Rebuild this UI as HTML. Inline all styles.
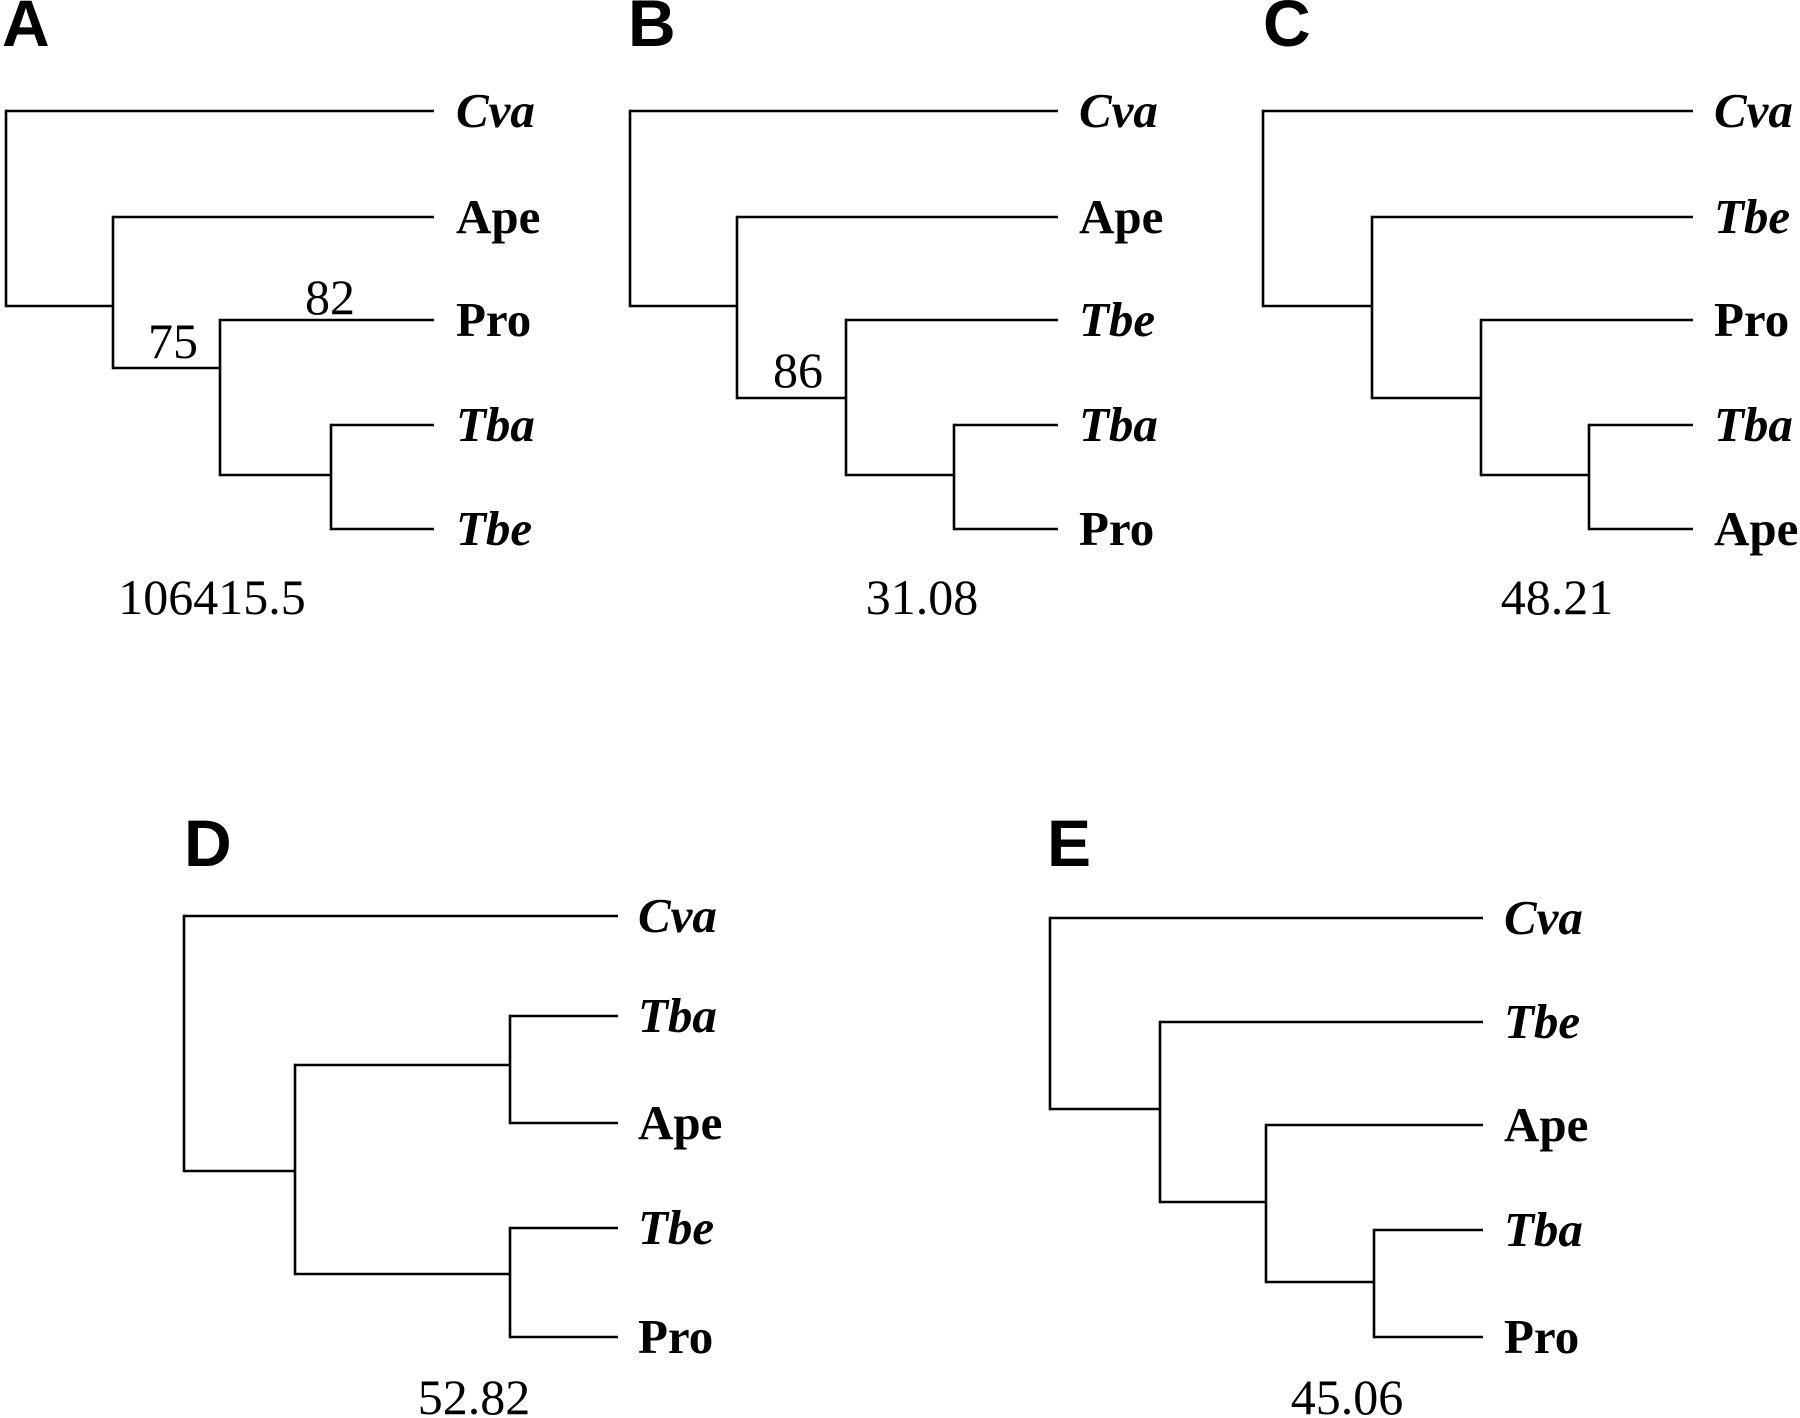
<!DOCTYPE html>
<html><head><meta charset="utf-8"><style>
html,body{margin:0;padding:0;background:#fff;}
svg{display:block;}
.tip{font-family:"Liberation Serif",serif;font-weight:bold;font-size:49px;fill:#000;}
.num{font-family:"Liberation Serif",serif;font-size:50px;fill:#000;}
.pl{font-family:"Liberation Sans",sans-serif;font-weight:bold;font-size:66px;fill:#000;}
</style></head><body>
<svg id="fig" width="1800" height="1418" viewBox="0 0 1800 1418" xmlns="http://www.w3.org/2000/svg"></svg>
<script>
const panelLetters = ["A","B","C","D","E"];
const panelScores = ["106415.5","31.08","48.21","52.82","45.06"];
const tipNamesA = ["Cva","Ape","Pro","Tba","Tbe"];
const tipNamesB = ["Cva","Ape","Tbe","Tba","Pro"];
const tipNamesC = ["Cva","Tbe","Pro","Tba","Ape"];
const tipNamesD = ["Cva","Tba","Ape","Tbe","Pro"];
const tipNamesE = ["Cva","Tbe","Ape","Tba","Pro"];
const italicTaxa = ["Cva","Tba","Tbe"];
const supportA = ["82","75"];
const supportB = ["86"];

const NS="http://www.w3.org/2000/svg";
const svg=document.getElementById('fig');
function mk(tag,attrs,parent){const e=document.createElementNS(NS,tag);for(const k in attrs)e.setAttribute(k,attrs[k]);(parent||svg).appendChild(e);return e;}

const layouts=[
 {letter:[2,46],rows:[111,217,320,425,529],tipX:434,labX:456,score:[212,614],
  tree:[6,306,[0,[113,306,[1,[220,368,[2,[331,475,[3,4]]]]]]]],names:tipNamesA,
  supPos:[[330,314],[173,358]],sup:supportA},
 {letter:[628,46],rows:[111,217,320,425,529],tipX:1058,labX:1079,score:[922,614],
  tree:[630,306,[0,[737,306,[1,[846,398,[2,[954,475,[3,4]]]]]]]],names:tipNamesB,
  supPos:[[798,387]],sup:supportB},
 {letter:[1263,46],rows:[111,217,320,425,529],tipX:1693,labX:1714,score:[1557,614],
  tree:[1263,306,[0,[1372,306,[1,[1481,398,[2,[1589,475,[3,4]]]]]]]],names:tipNamesC,supPos:[],sup:[]},
 {letter:[184,866],rows:[916,1016,1123,1228,1337],tipX:618,labX:638,score:[474,1414],
  tree:[184,1171,[0,[295,1171,[[510,1065,[1,2]],[510,1274,[3,4]]]]]],names:tipNamesD,supPos:[],sup:[]},
 {letter:[1047,866],rows:[918,1022,1125,1230,1337],tipX:1483,labX:1504,score:[1347,1414],
  tree:[1050,1109,[0,[1160,1109,[1,[1266,1202,[2,[1374,1282,[3,4]]]]]]]],names:tipNamesE,supPos:[],sup:[]}
];

layouts.forEach((L,pi)=>{
  const g=mk('g',{});
  
  
  const lt=mk('text',{x:L.letter[0],y:L.letter[1],class:'pl'},g);
  lt.textContent=panelLetters[pi];
  
  
  function draw(node){
    const x=node[0],kids=node[2];
    const ys=kids.map(c=>{
      let cy,cx;
      if(typeof c==='number'){cy=L.rows[c];cx=L.tipX;}
      else{cy=c[1];cx=c[0];draw(c);}
      const h=mk('line',{x1:x,y1:cy,x2:cx,y2:cy,stroke:'#000','stroke-width':2.6},g);
      
      
      return cy;
    });
    const v=mk('line',{x1:x,y1:Math.min(...ys)-1.3,x2:x,y2:Math.max(...ys)+1.3,stroke:'#000','stroke-width':2.6},g);
    
    
  }
  draw(L.tree);
  L.names.forEach((n,i)=>{
    const t=mk('text',{x:L.labX,y:L.rows[i]+16,class:'tip','font-style':italicTaxa.includes(n)?'italic':'normal'},g);
    t.textContent=n;
    
    
  });
  const s=mk('text',{x:L.score[0],y:L.score[1],class:'num','text-anchor':'middle'},g);
  s.textContent=panelScores[pi];
  
  
  L.sup.forEach((val,k)=>{
    const p=L.supPos[k];
    const t=mk('text',{x:p[0],y:p[1],class:'num','text-anchor':'middle'},g);
    t.textContent=val;
    
    
  });
});
</script>
</body></html>
